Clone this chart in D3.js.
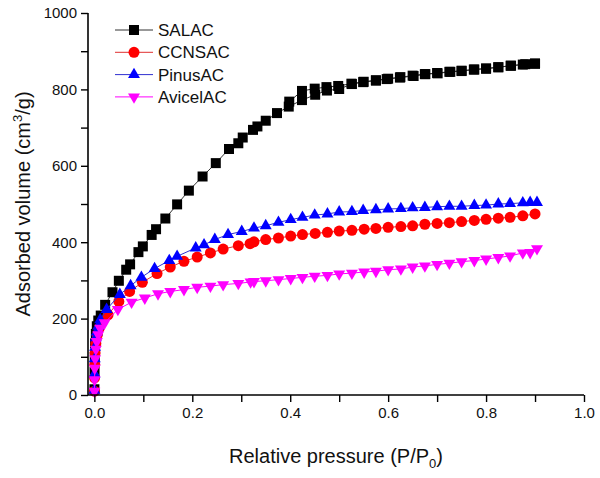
<!DOCTYPE html>
<html><head><meta charset="utf-8">
<script src="https://cdn.jsdelivr.net/npm/d3@7"></script>
<style>body{margin:0;background:#fff}svg{display:block}text{font-family:"Liberation Sans",Arial,sans-serif}</style>
</head><body><svg id="c" width="600" height="478"></svg>
<script>
const seriesNames = ["SALAC", "CCNSAC", "PinusAC", "AvicelAC"];
const xTicks = [0.0, 0.2, 0.4, 0.6, 0.8, 1.0];
const yTicks = [0, 200, 400, 600, 800, 1000];

const salacP = [0.0001,0.0004,0.0008,0.0015,0.003,0.005,0.008,0.013,0.022,0.037,0.050,0.065,0.073,0.090,0.099,0.117,0.126,0.145,0.169,0.193,0.221,0.248,0.275,0.294,0.303,0.324,0.333,0.350,0.373,0.397,0.424,0.451,0.475,0.500,0.526,0.549,0.575,0.597,0.624,0.652,0.676,0.701,0.727,0.750,0.776,0.800,0.825,0.851,0.880,0.900];
const salacV = [15,60,100,135,160,180,195,208,236,269,299,328,342,374,389,419,434,462,499,535,572,607,644,659,674,694,703,718,738,755,772,786,797,801,814,819,823,827,831,835,840,842,846,848,852,854,858,862,866,867];
const salacDesP = [0.900,0.875,0.850,0.825,0.800,0.775,0.750,0.725,0.700,0.675,0.650,0.625,0.600,0.575,0.550,0.525,0.498,0.474,0.450,0.424,0.398];
const salacDesV = [868,865,862,858,855,852,849,846,843,840,836,832,828,824,820,815,809,806,802,796,768];

const ccnsP = [0.0001,0.0004,0.0008,0.0015,0.003,0.006,0.010,0.016,0.028,0.050,0.072,0.098,0.128,0.155,0.183,0.210,0.237,0.263,0.294,0.318,0.326,0.350,0.376,0.401,0.425,0.451,0.476,0.500,0.526,0.551,0.575,0.600,0.626,0.650,0.675,0.700,0.725,0.750,0.776,0.800,0.825,0.849,0.875,0.900];
const ccnsV = [10,45,80,110,135,158,175,192,210,245,271,295,318,335,350,361,372,382,391,396,401,407,411,416,420,423,426,429,431,434,436,439,441,443,447,449,451,454,457,460,463,465,469,474];

const pinusP = [0.0001,0.0004,0.0008,0.0015,0.003,0.005,0.008,0.012,0.025,0.052,0.074,0.096,0.123,0.153,0.169,0.207,0.224,0.246,0.273,0.301,0.326,0.350,0.376,0.401,0.425,0.450,0.476,0.500,0.526,0.549,0.575,0.600,0.626,0.650,0.675,0.700,0.725,0.750,0.776,0.800,0.825,0.849,0.875,0.890,0.904];
const pinusV = [12,55,95,125,150,165,180,197,224,263,286,308,331,352,363,385,393,407,420,428,437,443,452,459,465,471,474,479,480,483,485,487,488,490,491,493,494,494,496,497,500,501,503,504,504];

const avicelP = [0.0001,0.0004,0.0008,0.0015,0.003,0.005,0.008,0.012,0.021,0.048,0.076,0.103,0.130,0.155,0.183,0.210,0.237,0.263,0.294,0.319,0.326,0.350,0.376,0.401,0.425,0.450,0.476,0.500,0.526,0.551,0.575,0.600,0.626,0.650,0.675,0.700,0.725,0.750,0.776,0.800,0.825,0.849,0.875,0.890,0.904];
const avicelV = [10,40,70,95,120,140,158,175,189,224,243,254,265,271,276,282,285,289,292,296,297,299,302,305,308,311,313,317,319,322,324,328,330,335,338,342,345,349,352,356,360,364,372,373,383];

const zip = (p, v) => p.map((d, i) => [d, v[i]]);
const series = [
  {name: seriesNames[0], color: "#000000", line: "#333333", sym: d3.symbolSquare, size: 100, rot: 0, paths: [zip(salacP, salacV), zip(salacDesP, salacDesV)]},
  {name: seriesNames[1], color: "#ff0000", line: "#e03030", sym: d3.symbolCircle, size: 95, rot: 0, paths: [zip(ccnsP, ccnsV)]},
  {name: seriesNames[2], color: "#0000ff", line: "#3030d0", sym: d3.symbolTriangle, size: 62, rot: 0, paths: [zip(pinusP, pinusV)]},
  {name: seriesNames[3], color: "#ff00ff", line: "#ff00ff", sym: d3.symbolTriangle, size: 62, rot: 180, paths: [zip(avicelP, avicelV)]}
];

const svg = d3.select("#c");
const x = d3.scaleLinear().domain([-0.013, 1.0]).range([88, 584]);
const y = d3.scaleLinear().domain([0, 1000]).range([395, 13]);

// series
const line = d3.line().x(d => x(d[0])).y(d => y(d[1]));
series.forEach(s => {
  const g = svg.append("g");
  s.paths.forEach(p => {
    g.append("path").attr("d", line(p)).attr("fill", "none").attr("stroke", s.line).attr("stroke-width", 1);
  });
  const sym = d3.symbol().type(s.sym).size(s.size);
  s.paths.forEach(p => {
    g.selectAll(null).data(p).enter().append("path")
      .attr("d", sym)
      .attr("transform", d => `translate(${x(d[0])},${y(d[1])}) rotate(${s.rot})`)
      .attr("fill", s.color);
  });
});

// axes
const xAxis = d3.axisBottom(x).tickValues(d3.range(0, 1.0001, 0.1)).tickSize(7).tickPadding(5)
  .tickFormat(d => { const r = Math.round(d * 10); return r % 2 === 0 ? d3.format(".1f")(d) : ""; });
const gx = svg.append("g").attr("transform", "translate(0,395)").call(xAxis);
const yAxis = d3.axisLeft(y).tickValues(d3.range(0, 1001, 100)).tickSize(7).tickPadding(4)
  .tickFormat(d => d % 200 === 0 ? d : "");
const gy = svg.append("g").attr("transform", "translate(88,0)").call(yAxis);
[gx, gy].forEach(g => {
  g.select(".domain").attr("stroke", "#000").attr("stroke-width", 1.6);
  g.selectAll(".tick line").attr("stroke", "#000").attr("stroke-width", 1.4);
  g.selectAll(".tick text").attr("font-size", 15).attr("fill", "#111").attr("font-family", "Liberation Sans, Arial, sans-serif");
});
gx.select(".domain").attr("d", "M88,0H584");
gy.select(".domain").attr("d", "M0,395V13");

// axis titles
const xt = svg.append("text").attr("x", 336).attr("y", 463).attr("text-anchor", "middle").attr("font-size", 20).attr("fill", "#111");
xt.append("tspan").text("Relative pressure (P/P");
xt.append("tspan").attr("font-size", 13).attr("dy", 5).text("0");
xt.append("tspan").attr("dy", -5).text(")");

const yt = svg.append("text").attr("transform", "translate(30,204) rotate(-90)").attr("text-anchor", "middle").attr("font-size", 20).attr("fill", "#111");
yt.append("tspan").text("Adsorbed volume (cm");
yt.append("tspan").attr("font-size", 13).attr("dy", -8).text("3");
yt.append("tspan").attr("dy", 8).text("/g)");

// legend
const leg = svg.append("g");
series.forEach((s, i) => {
  const cy = 30 + i * 22.3;
  leg.append("line").attr("x1", 115).attr("x2", 153).attr("y1", cy).attr("y2", cy).attr("stroke", s.line).attr("stroke-width", 1);
  leg.append("path").attr("d", d3.symbol().type(s.sym).size(s.size)).attr("transform", `translate(134,${cy}) rotate(${s.rot})`).attr("fill", s.color);
  leg.append("text").attr("x", 158).attr("y", cy + 6).attr("font-size", 17).attr("fill", "#111").text(s.name);
});
</script></body></html>
